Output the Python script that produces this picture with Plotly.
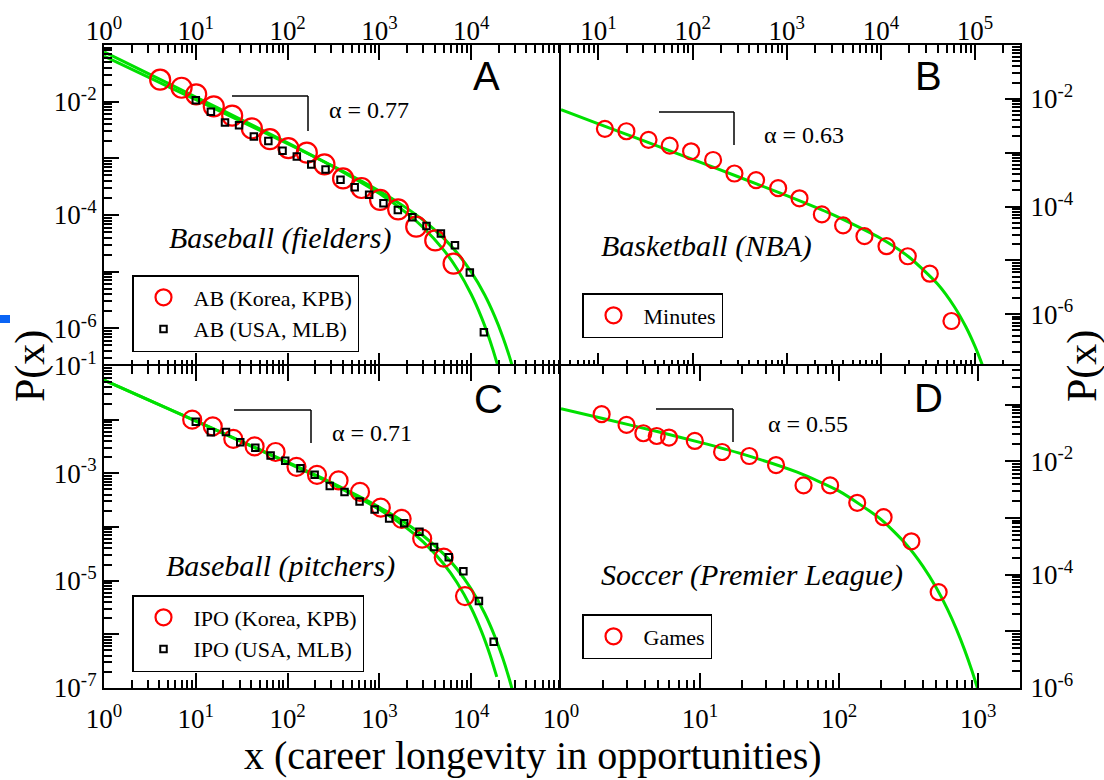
import plotly.graph_objects as go

# ---------------- data ----------------
# Panel A: Baseball fielders, at-bats (AB)
a_kor_x = [4.09, 7.0, 10.1, 15.7, 24.9, 40.8, 64.2, 102, 162, 252, 402, 639, 1018, 1600, 2517, 4057, 6424]
a_kor_y = [0.0244, 0.0176, 0.0135, 0.00828, 0.00568, 0.00338, 0.00218, 0.00152, 0.00126, 7.86e-4,
           4.42e-4, 3.0e-4, 1.85e-4, 1.26e-4, 6.22e-5, 3.56e-5, 1.39e-5]
a_mlb_x = [10.0, 14.6, 20.8, 29.6, 42.9, 61.7, 88.1, 126, 181, 259, 377, 538, 773, 1107, 1589, 2286,
           3258, 4677, 6653, 9661, 13740]
a_mlb_y = [0.0106, 6.62e-3, 4.28e-3, 3.82e-3, 2.44e-3, 2.03e-3, 1.36e-3, 1.08e-3, 7.8e-4, 6.38e-4,
           4.18e-4, 3.08e-4, 2.27e-4, 1.61e-4, 1.23e-4, 9.14e-5, 6.38e-5, 4.7e-5, 2.93e-5, 9.73e-6, 8.57e-7]
a_fit_kor_x = [1, 3, 10, 30, 100, 300, 1000, 2000, 3000, 5000, 7000, 10000, 13000, 16000, 19000, 22000]
a_fit_kor_y = [0.0760, 0.0316, 0.01208, 5.00e-3, 1.88e-3, 7.44e-4, 2.39e-4, 1.07e-4, 6.03e-5, 2.43e-5,
               1.13e-5, 4.00e-6, 1.53e-6, 6.12e-7, 2.52e-7, 1.06e-7]
a_fit_mlb_x = [1, 3, 10, 30, 100, 300, 1000, 2000, 3000, 5000, 7000, 10000, 14000, 18000, 22000, 26000, 30000]
a_fit_mlb_y = [0.0638, 0.02737, 0.01082, 4.63e-3, 1.81e-3, 7.51e-4, 2.64e-4, 1.31e-4, 8.11e-5, 3.91e-5,
               2.16e-5, 9.91e-6, 3.91e-6, 1.64e-6, 7.21e-7, 3.24e-7, 1.48e-7]

# Panel B: Basketball (NBA), minutes
b_x = [11.7, 19.8, 34.0, 57.1, 96.3, 165, 278, 472, 810, 1365, 2358, 3966, 6682, 11460, 19270, 33040, 56100]
b_y = [2.77e-3, 2.50e-3, 1.73e-3, 1.35e-3, 1.06e-3, 7.31e-4, 4.10e-4, 3.09e-4, 2.19e-4, 1.42e-4,
       7.14e-5, 4.45e-5, 2.81e-5, 1.83e-5, 1.19e-5, 5.64e-6, 7.46e-7]
b_fit_x = [4, 10, 30, 100, 300, 1000, 3000, 10000, 20000, 40000, 60000, 80000, 100000, 120000, 135000]
b_fit_y = [6.30e-3, 3.44e-3, 1.667e-3, 7.50e-4, 3.61e-4, 1.59e-4, 7.20e-5, 2.55e-5, 1.143e-5, 3.63e-6,
           1.39e-6, 5.77e-7, 2.49e-7, 1.11e-7, 6.1e-8]

# Panel C: Baseball pitchers, innings pitched in outs (IPO)
c_kor_x = [9.14, 15.3, 25.6, 43.7, 74, 125, 209, 359, 615, 1035, 1747, 2925, 5024, 8557]
c_kor_y = [0.01, 7.5e-3, 4.38e-3, 3.17e-3, 2.50e-3, 1.32e-3, 9.37e-4, 7.39e-4, 4.51e-4, 2.30e-4,
           1.42e-4, 6.09e-5, 2.69e-5, 5.17e-6]
c_mlb_x = [10.0, 14.6, 21.3, 30.5, 44.5, 65.3, 94.2, 138, 197, 288, 417, 608, 887, 1277, 1862, 2729,
           3939, 5693, 8222, 12140, 17580]
c_mlb_y = [9.19e-3, 5.80e-3, 5.89e-3, 3.79e-3, 3.0e-3, 2.15e-3, 1.71e-3, 1.25e-3, 9.37e-4, 5.83e-4,
           4.51e-4, 3.0e-4, 2.12e-4, 1.44e-4, 1.18e-4, 8.13e-5, 4.26e-5, 2.73e-5, 1.49e-5, 4.18e-6, 7.24e-7]
c_fit_kor_x = [1, 3, 10, 30, 100, 300, 1000, 2000, 3000, 5000, 7000, 10000, 13000, 16000, 19000]
c_fit_kor_y = [0.0547, 0.0236, 9.38e-3, 4.03e-3, 1.57e-3, 6.44e-4, 2.12e-4, 9.48e-5, 5.28e-5, 2.07e-5,
               9.24e-6, 3.09e-6, 1.11e-6, 4.17e-7, 1.61e-7]
c_fit_mlb_x = [1, 3, 10, 30, 100, 300, 1000, 2000, 3000, 5000, 7000, 10000, 14000, 18000, 22000, 26000, 29000]
c_fit_mlb_y = [0.0547, 0.02371, 9.46e-3, 4.09e-3, 1.61e-3, 6.72e-4, 2.34e-4, 1.14e-4, 6.87e-5, 3.15e-5,
               1.65e-5, 6.98e-6, 2.47e-6, 9.33e-7, 3.66e-7, 1.47e-7, 7.5e-8]

# Panel D: Soccer (Premier League), games
d_x = [1.96, 2.96, 3.91, 4.88, 5.98, 9.17, 14.4, 22.6, 35.2, 55.5, 86.2, 135, 209, 331, 520]
d_y = [0.0676, 0.0437, 0.0312, 0.0279, 0.0262, 0.0228, 0.01456, 0.01236, 8.57e-3, 3.75e-3, 3.75e-3,
       1.85e-3, 1.03e-3, 3.87e-4, 4.92e-5]
d_fit_x = [1, 2, 5, 10, 20, 50, 100, 200, 300, 400, 500, 600, 700, 800, 900, 1000]
d_fit_y = [0.0847, 0.0568, 0.0331, 0.02155, 0.01349, 6.41e-3, 2.97e-3, 9.44e-4, 3.53e-4, 1.41e-4,
           5.85e-5, 2.48e-5, 1.07e-5, 4.66e-6, 2.05e-6, 9.08e-7]

alpha_labels = ["α = 0.77", "α = 0.63", "α = 0.71", "α = 0.55"]
panel_letters = ["A", "B", "C", "D"]
panel_titles = ["Baseball (fielders)", "Basketball (NBA)", "Baseball (pitchers)", "Soccer (Premier League)"]

# ---------------- styling / layout ----------------
W, H = 1104, 780
SERIF = "Liberation Serif, Times New Roman, serif"
SANS = "Liberation Sans, Arial, sans-serif"
RED = "#ff0000"
GREEN = "#00e000"
TICK_FONT = dict(family=SERIF, size=27, color="black")


def X(px):
    return px / W


def Y(py):
    return 1 - py / H


fig = go.Figure()


def fit_line(x, y, xa, ya):
    fig.add_trace(go.Scatter(x=x, y=y, mode="lines", xaxis=xa, yaxis=ya, showlegend=False,
                             line=dict(color=GREEN, width=3, shape="spline", smoothing=0.6),
                             hoverinfo="skip"))


def circles(x, y, xa, ya, size, name, legend):
    fig.add_trace(go.Scatter(x=x, y=y, mode="markers", xaxis=xa, yaxis=ya, name=name, legend=legend,
                             marker=dict(symbol="circle-open", size=size, color=RED,
                                         line=dict(color=RED, width=2.2))))


def squares(x, y, xa, ya, name, legend):
    fig.add_trace(go.Scatter(x=x, y=y, mode="markers", xaxis=xa, yaxis=ya, name=name, legend=legend,
                             marker=dict(symbol="square-open", size=6.5, color="black",
                                         line=dict(color="black", width=2))))


# Panel A
fit_line(a_fit_kor_x, a_fit_kor_y, "x", "y")
fit_line(a_fit_mlb_x, a_fit_mlb_y, "x", "y")
circles(a_kor_x, a_kor_y, "x", "y", 20, "AB (Korea, KPB)", "legend")
squares(a_mlb_x, a_mlb_y, "x", "y", "AB (USA, MLB)", "legend")
# Panel B
fit_line(b_fit_x, b_fit_y, "x2", "y2")
circles(b_x, b_y, "x2", "y2", 16, "Minutes", "legend2")
# Panel C
fit_line(c_fit_kor_x, c_fit_kor_y, "x3", "y3")
fit_line(c_fit_mlb_x, c_fit_mlb_y, "x3", "y3")
circles(c_kor_x, c_kor_y, "x3", "y3", 18, "IPO (Korea, KPB)", "legend3")
squares(c_mlb_x, c_mlb_y, "x3", "y3", "IPO (USA, MLB)", "legend3")
# Panel D
fit_line(d_fit_x, d_fit_y, "x4", "y4")
circles(d_x, d_y, "x4", "y4", 16, "Games", "legend4")


def log_ticks(lo, hi, labeled):
    vals = [10.0 ** e for e in range(lo, hi + 1)]
    text = [f"10<sup>{e}</sup>" if e in labeled else "" for e in range(lo, hi + 1)]
    minors = [m * 10.0 ** e for e in range(lo - 1, hi + 1) for m in range(2, 10)]
    return vals, text, minors


def axis(rng, dom, lo, hi, labeled, side, anchor, mirror, standoff=0):
    vals, text, minors = log_ticks(lo, hi, labeled)
    return dict(type="log", range=rng, domain=dom, side=side, anchor=anchor, mirror=mirror,
                automargin=False, showgrid=False, zeroline=False, showline=True,
                linecolor="black", linewidth=2,
                ticks="inside", ticklen=15, tickwidth=1.5, tickcolor="black",
                tickmode="array", tickvals=vals, ticktext=text, ticklabelstandoff=standoff,
                tickfont=TICK_FONT,
                minor=dict(tickmode="array", tickvals=minors, ticks="inside", ticklen=8,
                           tickwidth=1.5, tickcolor="black", showgrid=False))


# plot-area edges (px); neighbouring panels overlap by the line width so shared borders coincide
L, R = 104, 1020
T, B = 45, 688
dx_left = [X(L), X(563)]
dx_right = [X(561), X(R)]
dy_top = [Y(368), Y(T)]
dy_bot = [Y(B), Y(366)]

fig.update_layout(
    xaxis=axis([0, 5], dx_left, 0, 5, range(0, 5), "top", "y", "ticks", -8),
    yaxis=axis([-6.699, -1], dy_top, -7, -1, [-2, -4, -6], "left", "x", True),
    xaxis2=axis([0.602, 5.477], dx_right, 0, 5, range(1, 6), "top", "y2", "ticks", -8),
    yaxis2=axis([-7, -1], dy_top, -7, -1, [-2, -4, -6], "right", "x2", True, 3),
    xaxis3=axis([0, 5], dx_left, 0, 5, range(0, 5), "bottom", "y3", "ticks", 6),
    yaxis3=axis([-7, -1], dy_bot, -7, -1, [-1, -3, -5, -7], "left", "x3", True),
    xaxis4=axis([0, 3.301], dx_right, 0, 3, range(0, 4), "bottom", "y4", "ticks", 6),
    yaxis4=axis([-6, -0.32], dy_bot, -6, 0, [-2, -4, -6], "right", "x4", True, 3),
)
fig.update_xaxes(tickfont=TICK_FONT)
fig.update_yaxes(tickfont=TICK_FONT)

leg_common = dict(bgcolor="white", bordercolor="black", borderwidth=1.5, xanchor="left", yanchor="top",
                  font=dict(family=SERIF, size=22, color="black"), itemwidth=50, tracegroupgap=0)
fig.update_layout(
    legend=dict(x=X(132), y=Y(275), **leg_common),
    legend2=dict(x=X(582), y=Y(293), **leg_common),
    legend3=dict(x=X(132), y=Y(595), **leg_common),
    legend4=dict(x=X(582), y=Y(614), **leg_common),
)

annotations = []
shapes = []
# panel letters
for txt, (cx, cy) in zip(panel_letters, [(486, 76), (928, 76), (488, 399), (928, 398)]):
    annotations.append(dict(text=txt, x=X(cx), y=Y(cy), xref="paper", yref="paper", showarrow=False,
                            xanchor="center", yanchor="middle",
                            font=dict(family=SANS, size=40, color="black")))
# alpha labels and slope brackets
brackets = [(232, 308, 96, 131, 327, 110), (659, 734, 112, 145, 762, 135),
            (234, 311, 410, 443, 330, 433), (656, 733, 409, 442, 766, 424)]
for txt, (x0, x1, y0, y1, tx, ty) in zip(alpha_labels, brackets):
    shapes.append(dict(type="line", xref="paper", yref="paper", x0=X(x0), x1=X(x1), y0=Y(y0), y1=Y(y0),
                       line=dict(color="black", width=1.5)))
    shapes.append(dict(type="line", xref="paper", yref="paper", x0=X(x1), x1=X(x1), y0=Y(y0), y1=Y(y1),
                       line=dict(color="black", width=1.5)))
    annotations.append(dict(text=txt, x=X(tx), y=Y(ty), xref="paper", yref="paper", showarrow=False,
                            xanchor="left", yanchor="middle",
                            font=dict(family=SERIF, size=24, color="black")))
# italic panel titles
for txt, (cx, cy) in zip(panel_titles, [(280, 238), (706, 246), (280, 566), (752, 575)]):
    annotations.append(dict(text=f"<i>{txt}</i>", x=X(cx), y=Y(cy), xref="paper", yref="paper",
                            showarrow=False, xanchor="center", yanchor="middle",
                            font=dict(family=SERIF, size=30, color="black")))
# axis titles
for cx in (30, 1082):
    annotations.append(dict(text="P(x)", x=X(cx), y=Y(366), xref="paper", yref="paper", showarrow=False,
                            xanchor="center", yanchor="middle", textangle=-90,
                            font=dict(family=SERIF, size=42, color="black")))
annotations.append(dict(text="x (career longevity in opportunities)", x=X(533), y=Y(755), xref="paper",
                        yref="paper", showarrow=False, xanchor="center", yanchor="middle",
                        font=dict(family=SERIF, size=40, color="black")))
# small blue mark at the left edge of the original image
shapes.append(dict(type="rect", xref="paper", yref="paper", x0=0, x1=X(10), y0=Y(323), y1=Y(315),
                   fillcolor="#0a64f5", line=dict(width=0)))

fig.update_layout(width=W, height=H, autosize=False, margin=dict(l=0, r=0, t=0, b=0),
                  paper_bgcolor="white", plot_bgcolor="white",
                  annotations=annotations, shapes=shapes)

fig.write_html("out.html")
